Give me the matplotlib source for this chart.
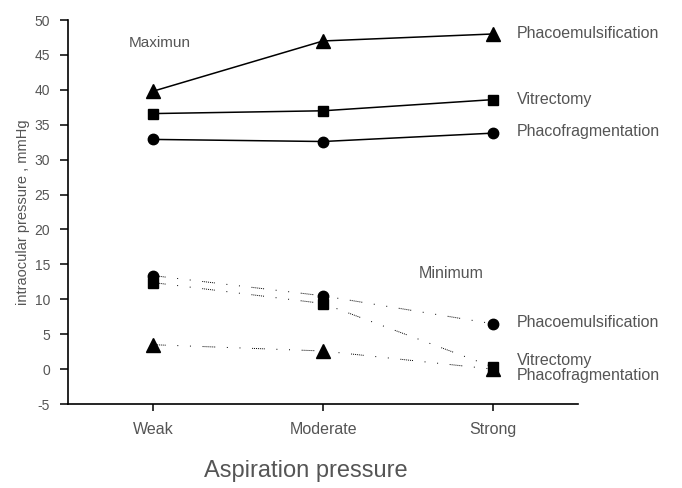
import numpy as np
import matplotlib.pyplot as plt

plt.rcParams['font.family'] = ['Liberation Sans', 'DejaVu Sans']
plt.rcParams['axes.unicode_minus'] = False

categories = ['Weak', 'Moderate', 'Strong']

# maximum intraocular pressure
max_phacoemulsification = [39.8, 47.0, 48.0]
max_vitrectomy = [36.6, 37.0, 38.6]
max_phacofragmentation = [32.9, 32.6, 33.8]

# minimum intraocular pressure
min_circle = [13.4, 10.5, 6.5]
min_square = [12.4, 9.4, 0.3]
min_triangle = [3.5, 2.6, 0.0]

text_col = '#555555'
x = np.arange(len(categories))

fig = plt.figure(figsize=(6.82, 4.88), dpi=100)
ax = fig.add_axes([0.0997, 0.172, 0.748, 0.787])

# solid lines for maximum
ax.plot(x, max_phacoemulsification, color='black', lw=1.1, marker='^', ms=10)
ax.plot(x, max_vitrectomy, color='black', lw=1.1, marker='s', ms=7)
ax.plot(x, max_phacofragmentation, color='black', lw=1.1, marker='o', ms=7.5)

# broken dotted lines for minimum
dots = (0, (1, 1) * 6 + (1, 12) * 3)
ax.plot(x, min_circle, color='black', lw=0.7, ls=dots, marker='o', ms=7.5)
ax.plot(x, min_square, color='black', lw=0.7, ls=dots, marker='s', ms=7)
ax.plot(x, min_triangle, color='black', lw=0.7, ls=dots, marker='^', ms=10)

ax.set_xlim(-0.5, 2.5)
ax.set_ylim(-5, 50)
ax.set_yticks(np.arange(-5, 51, 5))
ax.set_xticks(x)
ax.set_xticklabels(categories)

ax.spines['top'].set_visible(False)
ax.spines['right'].set_visible(False)
ax.spines['left'].set_linewidth(1.2)
ax.spines['bottom'].set_linewidth(1.2)
ax.tick_params(axis='y', direction='out', length=6, width=1.1, labelsize=10,
               labelcolor=text_col, pad=7)
ax.tick_params(axis='x', direction='out', length=5, width=1.1, labelsize=11.5,
               labelcolor=text_col, pad=8)

ax.set_ylabel('intraocular pressure , mmHg', fontsize=10.5, color=text_col)
ax.yaxis.set_label_coords(-0.075, 0.5)
ax.set_xlabel('Aspiration pressure', fontsize=17, color=text_col)
ax.xaxis.set_label_coords(0.467, -0.145)

# annotations
ax.text(-0.14, 46.7, 'Maximun', fontsize=11, color=text_col, va='center')
ax.text(1.56, 13.7, 'Minimum', fontsize=11.5, color=text_col, va='center')

lab_x = 2.14
ax.text(lab_x, 48.1, 'Phacoemulsification', fontsize=11.5, color=text_col, va='center')
ax.text(lab_x, 38.6, 'Vitrectomy', fontsize=11.5, color=text_col, va='center')
ax.text(lab_x, 34.0, 'Phacofragmentation', fontsize=11.5, color=text_col, va='center')
ax.text(lab_x, 6.7, 'Phacoemulsification', fontsize=11.5, color=text_col, va='center')
ax.text(lab_x, 1.2, 'Vitrectomy', fontsize=11.5, color=text_col, va='center')
ax.text(lab_x, -0.9, 'Phacofragmentation', fontsize=11.5, color=text_col, va='center')

fig.savefig('out.png', dpi=100)
